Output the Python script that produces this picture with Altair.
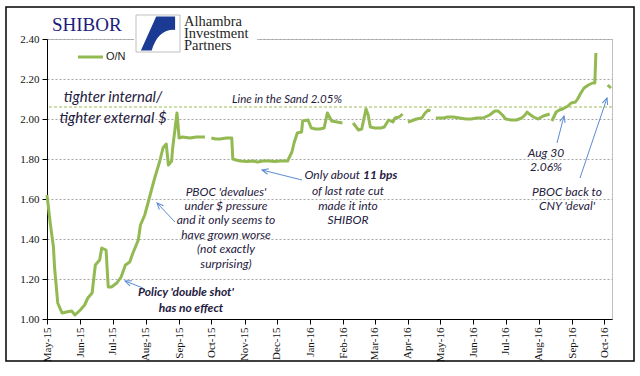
import math
import altair as alt
import pandas as pd

# ---------------- data ----------------
START = "2015-05-01"
# day offsets from START; None marks a break in the series (holidays)
day_offsets = [
    0, 3, 6, 7, 10, 14, 18, 23, 26, 31, 35, 38, 42, 45, 49, 51, 55, 57, 60, 65,
    69, 73, 77, 80, 85, 87, 91, 97, 100, 105, 108, 111, 113, 116, 117, 121, 123, 126, 133, 139,
    144, 147,
    None,
    153, 157, 161, 167, 172, 173, 176, 180, 186, 192, 196, 201, 207, 212, 217, 224, 228, 230, 233, 237,
    238, 243, 246, 250, 254, 258, 261, 265, 270, 275,
    None,
    285, 290, 293, 295, 297, 299, 301, 305, 311, 314, 318, 322, 324, 328, 331,
    None,
    336, 339, 344, 349, 352, 355, 357,
    None,
    362, 369, 373, 378, 384, 390, 395, 400, 406, 412, 417, 420, 424, 427, 432, 437, 442, 445, 447, 449,
    453, 457, 462, 468,
    None,
    470, 474, 477, 480, 485, 488, 492, 494, 497, 500, 504, 508, 510, 511,
    None,
    522, 525,
]
on_rate = [
    1.62, 1.48, 1.36, 1.26, 1.08, 1.03, 1.035, 1.04, 1.02, 1.045, 1.07, 1.105, 1.13, 1.27, 1.295, 1.355, 1.345, 1.16, 1.16, 1.18,
    1.21, 1.27, 1.285, 1.33, 1.395, 1.47, 1.52, 1.64, 1.70, 1.79, 1.855, 1.875, 1.77, 1.79, 1.855, 2.03, 1.905, 1.91, 1.905, 1.91,
    1.91, 1.91,
    None,
    1.905, 1.90, 1.90, 1.905, 1.905, 1.80, 1.795, 1.79, 1.787, 1.79, 1.785, 1.79, 1.79, 1.788, 1.79, 1.79, 1.835, 1.88, 1.93, 1.935,
    1.99, 1.995, 1.955, 1.95, 1.95, 1.955, 2.03, 1.99, 1.985, 1.98,
    None,
    1.98, 1.945, 1.95, 2.00, 2.05, 2.02, 1.96, 1.955, 1.955, 1.96, 1.995, 1.985, 2.005, 2.01, 2.025,
    None,
    1.985, 1.99, 2.00, 2.005, 2.03, 2.045, 2.04,
    None,
    2.005, 2.005, 2.01, 2.01, 2.005, 2.00, 2.00, 2.005, 2.005, 2.02, 2.04, 2.04, 2.02, 2.00, 1.995, 1.995, 2.005, 2.02, 2.035, 2.025,
    2.01, 2.00, 2.015, 2.025,
    None,
    1.99, 2.035, 2.045, 2.05, 2.065, 2.08, 2.085, 2.10, 2.13, 2.155, 2.17, 2.18, 2.18, 2.33,
    None,
    2.17, 2.155,
]
sand_line = [2.06]
month_ticks = [(2015, m) for m in range(5, 13)] + [(2016, m) for m in range(1, 11)]
y_ticks = [1.0, 1.2, 1.4, 1.6, 1.8, 2.0, 2.2, 2.4]

rows = []
seg = 0
for d, v in zip(day_offsets, on_rate):
    if v is None:
        seg += 1
        continue
    rows.append({"date": pd.Timestamp(START) + pd.Timedelta(days=d), "rate": v, "seg": seg})
df = pd.DataFrame(rows)

# ---------------- styles ----------------
GREEN = "#92B952"
ARROW = "#5B8BD0"
ANN = "#1F2040"
ANN_FONT = "Lato"
SERIF = "Liberation Serif"
OX, OY = 47, 39          # plot origin in page pixels
W, H = 565, 280
ONE = pd.DataFrame({"k": [0]})


def px(x):
    return alt.value(x - OX)


def py(y):
    return alt.value(y - OY)


def label(text, x, y, size=12, italic=True, bold=False, align="center",
          font=ANN_FONT, color=ANN):
    return alt.Chart(ONE).mark_text(
        text=text, align=align, baseline="middle", font=font, fontSize=size,
        fontStyle="italic" if italic else "normal",
        fontWeight="bold" if bold else "normal", color=color,
    ).encode(x=px(x), y=py(y))


def arrow(x1, y1, x2, y2):
    ang = math.degrees(math.atan2(x2 - x1, -(y2 - y1))) % 360
    shaft = alt.Chart(ONE).mark_rule(color=ARROW, strokeWidth=1).encode(
        x=px(x1), y=py(y1), x2=px(x2), y2=py(y2))
    head = alt.Chart(ONE).mark_point(
        shape="M -0.7 1.6 L 0 0 L 0.7 1.6", size=64, angle=ang, color=ARROW,
        filled=False, strokeWidth=1, opacity=1).encode(x=px(x2), y=py(y2))
    return [shaft, head]


x_enc = alt.X(
    "date:T",
    scale=alt.Scale(domain=[alt.DateTime(year=2015, month=5, date=1),
                            alt.DateTime(year=2016, month=10, date=8)], nice=False),
    axis=alt.Axis(
        title=None, format="%b-%y", labelAngle=270,
        values=[alt.DateTime(year=y, month=m, date=1) for y, m in month_ticks],
        labelFont=SERIF, labelFontSize=11, labelColor="#111", labelPadding=3,
        labelOverlap=False, tickSize=5, tickColor="#000", domainColor="#000",
        domainWidth=1, grid=False,
    ),
)
y_axis = alt.Axis(
    title=None, values=y_ticks, format=".2f", labelFont=SERIF, labelFontSize=11,
    labelColor="#111", labelPadding=3, labelOverlap=False, tickSize=5, tickColor="#000",
    domainColor="#000", domainWidth=1, grid=True, gridColor="#A6A6A6",
    gridDash=[2, 2], gridWidth=1,
)
y_scale = alt.Scale(domain=[1.0, 2.4], nice=False, zero=False)

line = alt.Chart(df).mark_line(color=GREEN, strokeWidth=3, strokeJoin="round").encode(
    x=x_enc, y=alt.Y("rate:Q", scale=y_scale, axis=y_axis), detail="seg:N")

sand = alt.Chart(pd.DataFrame({"rate": sand_line})).mark_rule(
    color="#9BBB59", strokeWidth=1, strokeDash=[3, 2]).encode(
    y=alt.Y("rate:Q", scale=y_scale, axis=y_axis))

frame = alt.Chart(ONE).mark_rect(fillOpacity=0, stroke="#000", strokeWidth=1.5).encode(
    x=px(6), x2=px(634), y=py(7), y2=py(361))

logo_bg = alt.Chart(ONE).mark_rect(fill="white").encode(
    x=px(134), x2=px(257), y=py(12), y2=py(55))
logo_box = alt.Chart(ONE).mark_rect(fill="white", stroke="#B0B0B0", strokeWidth=0.8).encode(
    x=px(136), x2=px(180), y=py(15), y2=py(52))
logo_mark = alt.Chart(ONE).mark_point(
    shape="M -0.95 0.95 L -0.1 -0.95 L 0.95 -0.95 L 0.95 -0.2 Q 0.0 -0.25 -0.35 0.95 Z",
    size=1296, filled=True, color="#1A3A94", opacity=1, strokeWidth=0,
).encode(x=px(158), y=py(33.5))

legend_line = alt.Chart(ONE).mark_rule(color=GREEN, strokeWidth=3).encode(
    x=px(78), x2=px(103), y=py(57))

layers = [frame, line, sand, logo_bg, logo_box, logo_mark, legend_line,
          label("O/N", 106, 57, size=11, italic=False, align="left",
                font="Liberation Sans", color="#222"),
          label("SHIBOR", 52, 25, size=19, italic=False, align="left",
                font=SERIF, color="#1C1C7C"),
          label("Alhambra", 184, 21.5, size=14.5, italic=False, align="left", font=SERIF, color="#262626"),
          label("Investment", 184, 33.5, size=14.5, italic=False, align="left", font=SERIF, color="#262626"),
          label("Partners", 184, 45.5, size=14.5, italic=False, align="left", font=SERIF, color="#262626"),
          label("tighter internal/", 113, 97, size=15),
          label("tighter external $", 113, 118, size=15),
          label("Line in the Sand 2.05%", 287, 100, size=11.5),
          label("PBOC 'devalues'", 226, 192),
          label("under $ pressure", 226, 206),
          label("and it only seems to", 226, 220),
          label("have grown worse", 226, 234.5),
          label("(not exactly", 226, 249),
          label("surprising)", 226, 264),
          label("Only about", 360, 175, align="right"),
          label("11 bps", 363, 175, align="left", bold=True),
          label("of last rate cut", 348, 191),
          label("made it into", 348, 206),
          label("SHIBOR", 348, 220),
          label("Policy 'double shot'", 186, 292, bold=True),
          label("has no effect", 191, 308, bold=True),
          label("Aug 30", 546, 153),
          label("2.06%", 546, 167),
          label("PBOC back to", 567, 191.5),
          label("CNY 'deval'", 567, 206),
          ]
layers += arrow(143, 288, 125, 281)
layers += arrow(175, 222, 157, 203)
layers += arrow(302, 180, 262, 170)
layers += arrow(557, 143, 564, 116)
layers += arrow(580, 178, 607, 98)

chart = alt.layer(*layers).properties(
    width=W, height=H,
    padding={"left": OX, "top": OY, "right": 640 - OX - W, "bottom": 376 - OY - H},
    autosize=alt.AutoSizeParams(type="none"),
    background="white",
).configure_view(stroke="#BFBFBF", strokeWidth=1)

chart.save("out.html", embed_options={"renderer": "svg", "actions": False})
